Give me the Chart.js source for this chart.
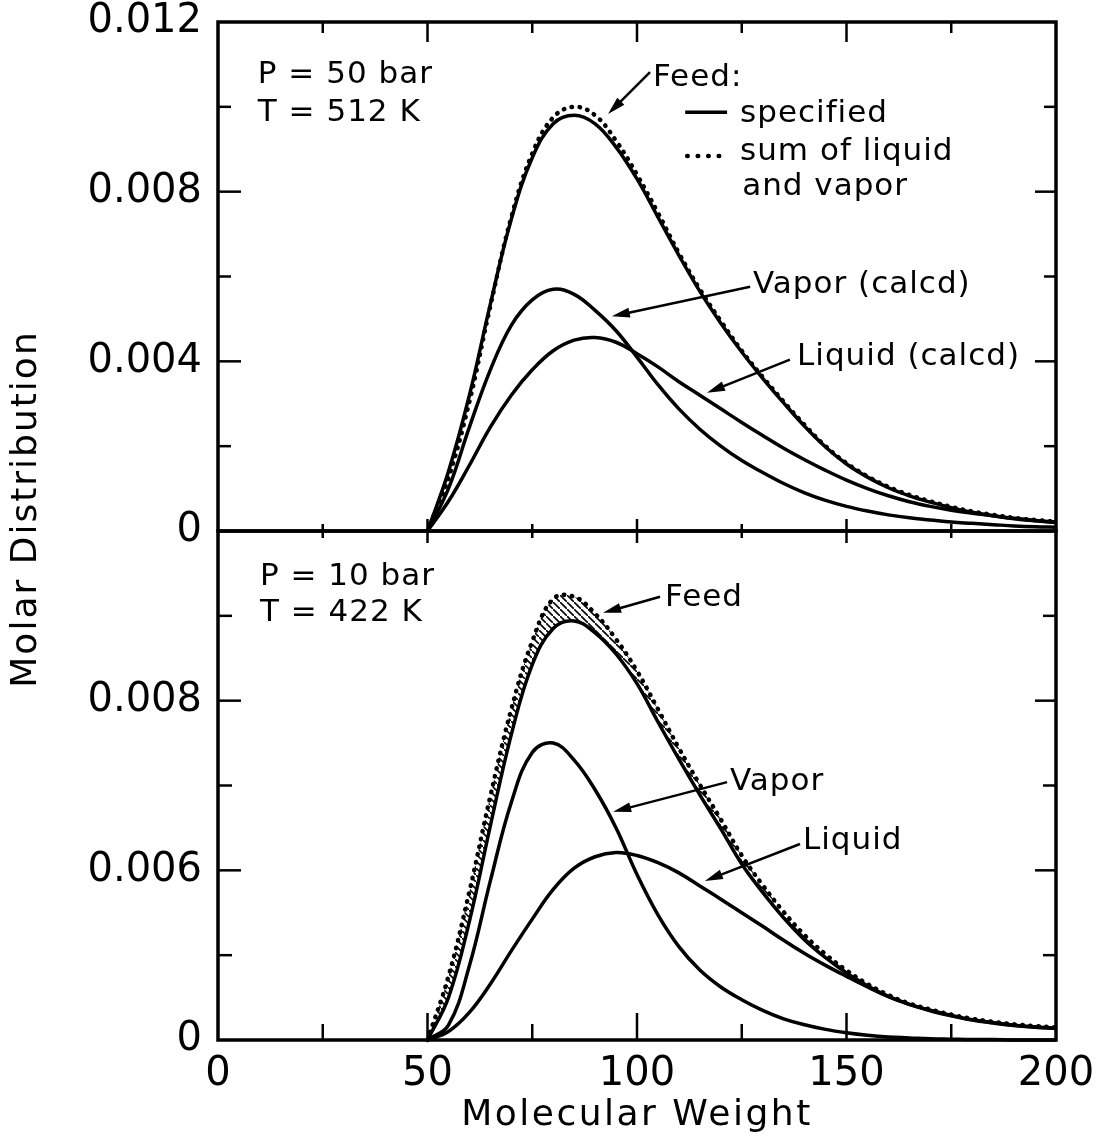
<!DOCTYPE html>
<html>
<head>
<meta charset="utf-8">
<script src="https://cdn.jsdelivr.net/npm/chart.js@4.4.1/dist/chart.umd.min.js"></script>
<style>
  html, body { margin: 0; padding: 0; background: #fff; }
  #wrap { position: relative; width: 1100px; height: 1142px; }
  #wrap canvas { position: absolute; left: 0; top: 0; }
</style>
</head>
<body>
<div id="wrap">
  <canvas id="top-chart" width="1100" height="1142"></canvas>
  <canvas id="bottom-chart" width="1100" height="1142"></canvas>
</div>
<script>
// molecular weight grid shared by every curve
const mw = [50, 55, 60, 65, 70, 75, 80, 85, 90, 95, 100, 105, 110, 115, 120, 125, 130, 135, 140, 145, 150, 155, 160, 165, 170, 175, 180, 185, 190, 195, 200];

// P = 50 bar, T = 512 K
const feed50   = [0, 0.0014, 0.0032, 0.00535, 0.00735, 0.0088, 0.0096, 0.0098, 0.0096, 0.00905, 0.0083, 0.0074, 0.0065, 0.00565, 0.0049, 0.00422, 0.0036, 0.00302, 0.00247, 0.00198, 0.00158, 0.00127, 0.00102, 0.00083, 0.00068, 0.00055, 0.00044, 0.00036, 0.00029, 0.00024, 0.0002];
const sum50    = [0, 0.00125, 0.00305, 0.0053, 0.0074, 0.0089, 0.00975, 0.0100, 0.0098, 0.0092, 0.0084, 0.0075, 0.00655, 0.0057, 0.00495, 0.00425, 0.00363, 0.00305, 0.0025, 0.002, 0.0016, 0.00129, 0.00104, 0.00085, 0.0007, 0.00057, 0.00046, 0.00038, 0.00031, 0.00026, 0.00022];
const vapor50  = [0, 0.0010, 0.00245, 0.0038, 0.00485, 0.00545, 0.0057, 0.00558, 0.0052, 0.00472, 0.0041, 0.00345, 0.00288, 0.0024, 0.0020, 0.00166, 0.00138, 0.00112, 0.0009, 0.00072, 0.00058, 0.00047, 0.00038, 0.00031, 0.00026, 0.00021, 0.00018, 0.00015, 0.00012, 0.0001, 0.00009];
const liquid50 = [0, 0.0007, 0.00155, 0.00245, 0.0032, 0.0038, 0.00425, 0.0045, 0.00456, 0.00445, 0.00418, 0.00387, 0.00352, 0.0032, 0.00288, 0.00256, 0.00225, 0.00195, 0.00168, 0.00143, 0.0012, 0.001, 0.00083, 0.00069, 0.00058, 0.00049, 0.00042, 0.00036, 0.0003, 0.00025, 0.00021];

// P = 10 bar, T = 422 K
const feed10   = [0, 0.0010, 0.0028, 0.00505, 0.0072, 0.00885, 0.0097, 0.00988, 0.0096, 0.0091, 0.0084, 0.0075, 0.00662, 0.00578, 0.00498, 0.00415, 0.00348, 0.00288, 0.00236, 0.00194, 0.00158, 0.00128, 0.00103, 0.00084, 0.0007, 0.00058, 0.00048, 0.00041, 0.00035, 0.00031, 0.00028];
const sum10    = [0, 0.0015, 0.0035, 0.00575, 0.0078, 0.0094, 0.0104, 0.01045, 0.01005, 0.00945, 0.0087, 0.0078, 0.00688, 0.00602, 0.0052, 0.00435, 0.00365, 0.00302, 0.00247, 0.00202, 0.00164, 0.00132, 0.00106, 0.00086, 0.00072, 0.0006, 0.0005, 0.00043, 0.00037, 0.00033, 0.0003];
const vapor10  = [0, 0.00035, 0.00175, 0.00375, 0.0056, 0.00678, 0.0070, 0.0066, 0.0059, 0.0050, 0.0039, 0.00295, 0.0022, 0.00165, 0.00125, 0.00095, 0.0007, 0.0005, 0.00036, 0.00025, 0.00017, 0.00011, 0.00007, 0.00005, 0.00003, 0.00002, 0.00001, 0.00001, 0, 0, 0];
const liquid10 = [0, 0.0002, 0.00065, 0.00132, 0.0021, 0.00285, 0.00355, 0.00405, 0.00432, 0.00442, 0.00435, 0.00418, 0.00394, 0.00363, 0.00332, 0.003, 0.00268, 0.00235, 0.00204, 0.00176, 0.0015, 0.00125, 0.00102, 0.00084, 0.00069, 0.00057, 0.00047, 0.0004, 0.00034, 0.0003, 0.00027];

// axis ticks and labels
const xLabelVals = [0, 50, 100, 150, 200];
const xTickVals = [0, 25, 50, 75, 100, 125, 150, 175, 200];
const yLabelVals = [0, 0.004, 0.008, 0.012];
const yTickVals = [0, 0.002, 0.004, 0.006, 0.008, 0.010, 0.012];
const topYLabels = ['0', '0.004', '0.008', '0.012'];
const bottomYLabels = ['0', '0.006', '0.008', ''];

const FONT = '"DejaVu Sans", sans-serif';

// annotations, in data units (MW, molar distribution)
const topNotes = [
  { text: 'P = 50 bar', x: 9.5, y: 0.01075 },
  { text: 'T = 512 K', x: 9.5, y: 0.00985 },
  { text: 'Feed:', x: 103.8, y: 0.01068 },
  { text: 'specified', x: 124.6, y: 0.00983 },
  { text: 'sum of liquid', x: 124.6, y: 0.00893 },
  { text: 'and vapor', x: 125.1, y: 0.0081 },
  { text: 'Vapor (calcd)', x: 127.7, y: 0.00581 },
  { text: 'Liquid (calcd)', x: 138.2, y: 0.00411 }
];
const topArrows = [
  [103.1, 0.01082, 93.1, 0.00983],
  [127.0, 0.00576, 94.0, 0.00506],
  [136.5, 0.00404, 116.7, 0.00326]
];
const bottomNotes = [
  { text: 'P = 10 bar', x: 10, y: 0.01092 },
  { text: 'T = 422 K', x: 10, y: 0.01007 },
  { text: 'Feed', x: 106.7, y: 0.01042 },
  { text: 'Vapor', x: 122.2, y: 0.00608 },
  { text: 'Liquid', x: 139.6, y: 0.00469 }
];
const bottomArrows = [
  [105.5, 0.01045, 91.9, 0.01007],
  [121.5, 0.00608, 94.3, 0.00538],
  [138.9, 0.00462, 116.2, 0.00375]
];

function series(vals, extra) {
  return Object.assign({
    data: mw.map((m, i) => ({ x: m, y: vals[i] })),
    borderColor: '#000',
    backgroundColor: 'transparent',
    borderWidth: 3.5,
    pointRadius: 0,
    tension: 0.4,
    fill: false,
    clip: false
  }, extra);
}

const dotted = { borderDash: [0.5, 7.5], borderCapStyle: 'round', borderWidth: 4.5 };

function hatchPattern(ctx) {
  const pc = document.createElement('canvas');
  pc.width = 7; pc.height = 7;
  const p = pc.getContext('2d');
  p.strokeStyle = '#000';
  p.lineWidth = 1.6;
  p.beginPath();
  p.moveTo(-1, -1); p.lineTo(8, 8);
  p.stroke();
  return ctx.createPattern(pc, 'repeat');
}

function drawArrow(ctx, x1, y1, x2, y2) {
  const ang = Math.atan2(y2 - y1, x2 - x1);
  const len = 18, half = 5;
  const c = Math.cos(ang), s = Math.sin(ang);
  ctx.beginPath();
  ctx.moveTo(x1, y1);
  ctx.lineTo(x2 - c * len * 0.7, y2 - s * len * 0.7);
  ctx.stroke();
  ctx.beginPath();
  ctx.moveTo(x2, y2);
  ctx.lineTo(x2 - len * c + half * s, y2 - len * s - half * c);
  ctx.lineTo(x2 - len * c - half * s, y2 - len * s + half * c);
  ctx.closePath();
  ctx.fill();
}

// frame, inward tick marks and the text notes of one panel
const panelDecor = {
  id: 'panelDecor',
  afterDraw(chart, args, opts) {
    const { ctx, chartArea: a } = chart;
    const x = chart.scales.x, y = chart.scales.y;
    ctx.save();
    ctx.strokeStyle = '#000';
    ctx.fillStyle = '#000';
    ctx.lineWidth = 2.5;
    const seg = (x1, y1, x2, y2) => { ctx.beginPath(); ctx.moveTo(x1, y1); ctx.lineTo(x2, y2); ctx.stroke(); };

    xTickVals.forEach(v => {
      if (v === 0 || v === 200) return;
      const px = x.getPixelForValue(v);
      const major = v % 50 === 0 ? 0 : 1;
      if (opts.top) seg(px, a.top, px, a.top + opts.top[major]);
      if (opts.bottom) seg(px, a.bottom - opts.bottom[major][0], px, a.bottom + opts.bottom[major][1]);
    });
    yTickVals.forEach(v => {
      if (v === 0 || v === 0.012) return;
      const py = y.getPixelForValue(v);
      const major = Math.round(v / 0.002) % 2 === 0 ? 0 : 1;
      seg(a.left, py, a.left + opts.left[major], py);
      seg(a.right, py, a.right - opts.right[major], py);
    });

    ctx.lineWidth = 3.5;
    ctx.strokeRect(a.left, a.top, a.right - a.left, a.bottom - a.top);

    ctx.lineWidth = 2.5;
    opts.arrows.forEach(ar => drawArrow(ctx,
      x.getPixelForValue(ar[0]), y.getPixelForValue(ar[1]),
      x.getPixelForValue(ar[2]), y.getPixelForValue(ar[3])));

    ctx.font = '31px ' + FONT;
    ctx.textBaseline = 'middle';
    ctx.textAlign = 'left';
    ctx.letterSpacing = '1px';
    opts.notes.forEach(n => ctx.fillText(n.text, x.getPixelForValue(n.x), y.getPixelForValue(n.y)));

    // legend samples for the feed
    if (opts.legend) {
      const lx1 = x.getPixelForValue(111.5), lx2 = x.getPixelForValue(121.5);
      ctx.lineWidth = 3.5;
      seg(lx1, y.getPixelForValue(0.00987), lx2, y.getPixelForValue(0.00987));
      ctx.lineWidth = 4.5;
      ctx.lineCap = 'round';
      ctx.setLineDash([0.5, 10]);
      seg(lx1 + 2, y.getPixelForValue(0.00884), lx2, y.getPixelForValue(0.00884));
      ctx.setLineDash([]);
    }

    if (opts.titles) {
      ctx.font = '36px ' + FONT;
      ctx.textAlign = 'center';
      ctx.letterSpacing = '2.5px';
      ctx.fillText('Molecular Weight', x.getPixelForValue(100), a.bottom + 76);
      ctx.letterSpacing = '2px';
      ctx.translate(27, a.top - 22);
      ctx.rotate(-Math.PI / 2);
      ctx.fillText('Molar Distribution', 0, 0);
    }
    ctx.restore();
  }
};

function yScale(labels) {
  return {
    type: 'linear', min: 0, max: 0.012,
    afterBuildTicks: s => { s.ticks = yLabelVals.map(v => ({ value: v })); },
    afterFit: s => { s.width = 218; s.paddingTop = 0; s.paddingBottom = 0; },
    grid: { display: false, drawTicks: false },
    border: { display: false },
    ticks: {
      color: '#000', padding: 16,
      font: { family: FONT, size: 40, lineHeight: 1 },
      callback: (v, i) => labels[i]
    }
  };
}

const baseOptions = {
  responsive: false,
  animation: false,
  events: [],
  plugins: { legend: { display: false }, tooltip: { enabled: false } }
};

const topCtx = document.getElementById('top-chart').getContext('2d');
new Chart(topCtx, {
  type: 'line',
  data: {
    datasets: [
      series(feed50),
      series(sum50, dotted),
      series(vapor50),
      series(liquid50)
    ]
  },
  options: Object.assign({}, baseOptions, {
    layout: { padding: { left: 0, right: 44, top: 22, bottom: 611 } },
    scales: {
      x: { type: 'linear', min: 0, max: 200, display: false },
      y: yScale(topYLabels)
    },
    plugins: Object.assign({}, baseOptions.plugins, {
      panelDecor: {
        top: [20, 11],
        bottom: [[12, 12], [7, 7]],
        left: [23, 13],
        right: [21, 12],
        notes: topNotes,
        arrows: topArrows,
        legend: true
      }
    })
  }),
  plugins: [panelDecor]
});

const bottomCtx = document.getElementById('bottom-chart').getContext('2d');
new Chart(bottomCtx, {
  type: 'line',
  data: {
    datasets: [
      series(feed10),
      series(sum10, Object.assign({}, dotted, { fill: { target: 0 }, backgroundColor: hatchPattern(bottomCtx) })),
      series(vapor10),
      series(liquid10)
    ]
  },
  options: Object.assign({}, baseOptions, {
    layout: { padding: { left: 0, right: 44, top: 531, bottom: 0 } },
    scales: {
      x: {
        type: 'linear', min: 0, max: 200,
        afterBuildTicks: s => { s.ticks = xLabelVals.map(v => ({ value: v })); },
        afterFit: s => { s.height = 102; s.paddingLeft = 0; s.paddingRight = 0; },
        grid: { display: false, drawTicks: false },
        border: { display: false },
        ticks: {
          color: '#000', padding: 15, autoSkip: false, maxRotation: 0,
          font: { family: FONT, size: 40, lineHeight: 1 }
        }
      },
      y: yScale(bottomYLabels)
    },
    plugins: Object.assign({}, baseOptions.plugins, {
      filler: { propagate: false },
      panelDecor: {
        top: null,
        bottom: [[27, 0], [16, 0]],
        left: [23, 14],
        right: [21, 13],
        notes: bottomNotes,
        arrows: bottomArrows,
        legend: false,
        titles: true
      }
    })
  }),
  plugins: [panelDecor]
});
</script>
</body>
</html>
